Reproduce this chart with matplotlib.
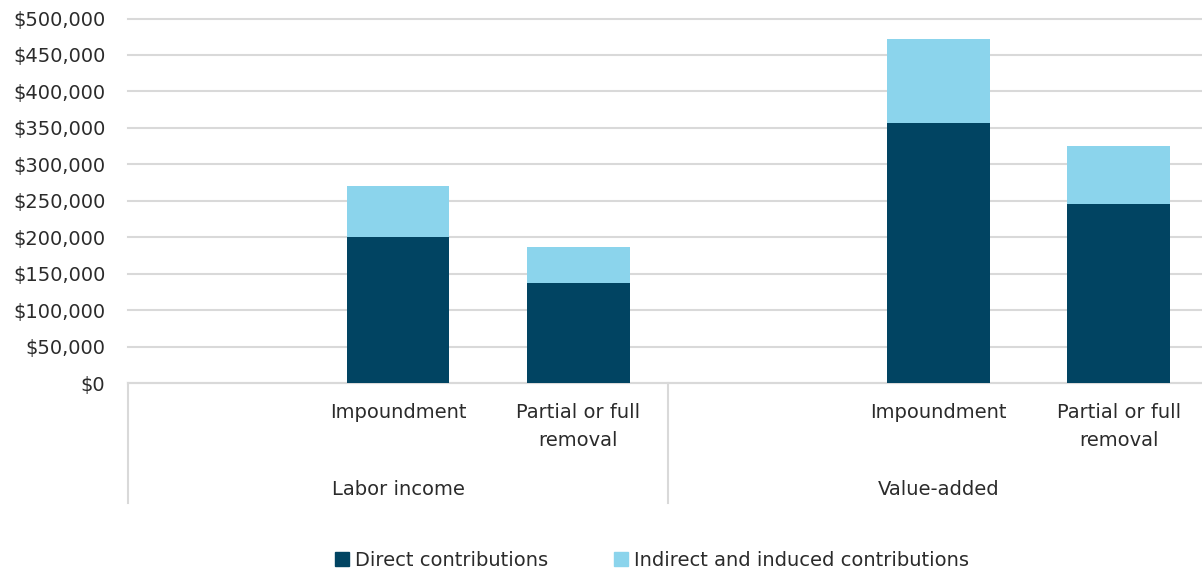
import matplotlib.pyplot as plt
import matplotlib.transforms as mtransforms
from matplotlib.patches import Patch
from matplotlib.ticker import FuncFormatter

# data
groups = ['Labor income', 'Value-added']
scenarios = ['Impoundment', 'Partial or full\nremoval']
direct = [200000, 137000, 356000, 245000]
indirect = [70000, 49000, 116000, 80000]

dark = '#014462'
light = '#8BD4EC'
grid_c = '#d9d9d9'
text_c = '#2b2b2b'

plt.rcParams['font.family'] = ['DejaVu Sans']
plt.rcParams['font.size'] = 14

fig = plt.figure(figsize=(12.02, 5.73), dpi=100)
ax = fig.add_axes([127.7 / 1202, 1 - 383 / 573, (1208.9 - 127.7) / 1202, (383 - 18.5) / 573])

# each group has one empty slot followed by the two scenarios
pos = [g * 3 + s + 1 for g in range(len(groups)) for s in range(len(scenarios))]
ax.bar(pos, direct, width=0.57, color=dark, zorder=3)
ax.bar(pos, indirect, width=0.57, bottom=direct, color=light, zorder=3)

ax.set_xlim(-0.5, 5.5)
ax.set_ylim(0, 500000)
ax.set_yticks(range(0, 500001, 50000))
ax.yaxis.set_major_formatter(FuncFormatter(lambda v, p: '${:,.0f}'.format(v)))
ax.tick_params(axis='y', length=0, pad=16, colors=text_c, labelsize=14)
ax.set_xticks([])
ax.grid(axis='y', color=grid_c, linewidth=1.5, zorder=0)
for gl in ax.get_ygridlines():
    gl.set_clip_on(False)
for s in ['top', 'right', 'left']:
    ax.spines[s].set_visible(False)
ax.spines['bottom'].set_color(grid_c)
ax.spines['bottom'].set_linewidth(1.5)

# category labels and group separators
trans = mtransforms.blended_transform_factory(ax.transData, ax.transAxes)
for i, p in enumerate(pos):
    ax.text(p, -0.055, scenarios[i % 2], transform=trans, ha='center', va='top',
            color=text_c, fontsize=14, linespacing=1.62)
for g, name in enumerate(groups):
    ax.text(g * 3 + 1, -0.292, name, transform=trans, ha='center', va='center',
            color=text_c, fontsize=14)
for x in [-0.5, 2.5, 5.5]:
    ax.plot([x, x], [0, -0.33], transform=trans, color=grid_c, linewidth=1.5, clip_on=False)

handles = [Patch(color=dark, label='Direct contributions'),
           Patch(color=light, label='Indirect and induced contributions')]
fig.legend(handles=handles, loc='center', bbox_to_anchor=(652 / 1202, 1 - 560 / 573),
           ncol=2, frameon=False, fontsize=14, handlelength=0.7, handleheight=0.7,
           handletextpad=0.3, columnspacing=3.4, labelcolor=text_c)

fig.savefig('out.png', dpi=100)
